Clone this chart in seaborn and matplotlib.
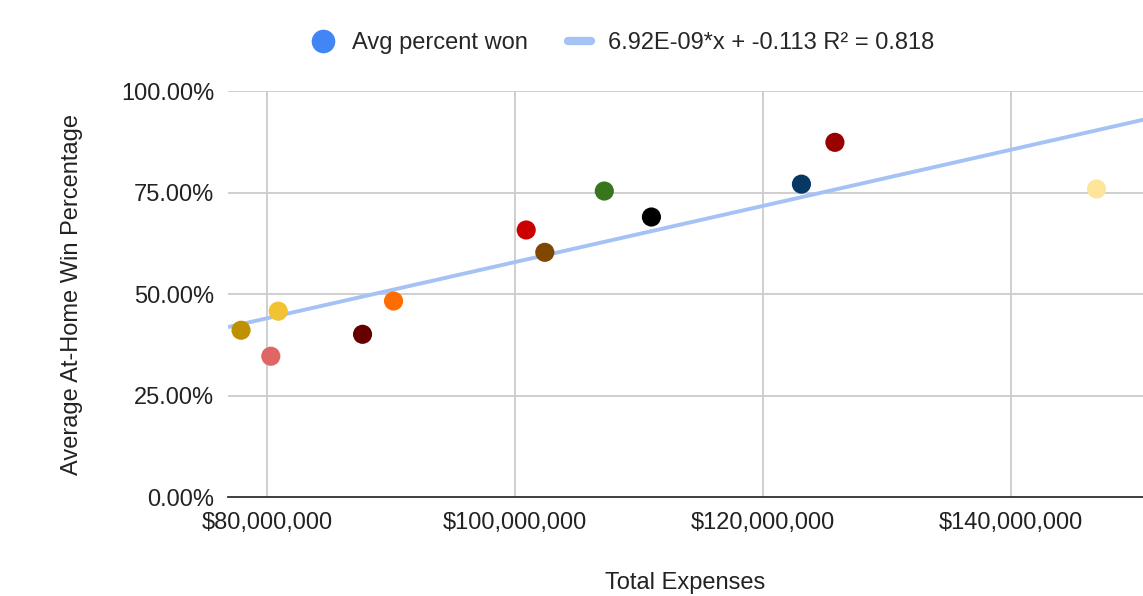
import numpy as np
import pandas as pd
import matplotlib
matplotlib.use("Agg")
import matplotlib.pyplot as plt
from matplotlib.ticker import FuncFormatter, PercentFormatter
from matplotlib.lines import Line2D
import seaborn as sns

# Team data: total expenses (USD) and average at-home win percentage
expenses = [77.9e6, 80.3e6, 80.9e6, 87.7e6, 90.2e6, 100.9e6, 102.4e6,
            107.2e6, 111.0e6, 123.1e6, 125.8e6, 146.9e6]
win_pct = [0.411, 0.347, 0.458, 0.401, 0.483, 0.658, 0.603,
           0.754, 0.690, 0.771, 0.874, 0.759]
point_colors = ["#BF9000", "#E06666", "#F1C232", "#660000", "#FF6D01", "#CC0000",
                "#7F4700", "#38761D", "#000000", "#073763", "#990000", "#FFE599"]

# Linear trendline coefficients
slope = 6.92e-09
intercept = -0.113
r_squared = 0.818

x_ticks = [80e6, 100e6, 120e6, 140e6]
y_ticks = [0, 0.25, 0.5, 0.75, 1.0]

sns.set_theme(style="white")
plt.rcParams["font.family"] = ["Liberation Sans", "DejaVu Sans"]

FS = 17
TXT = "#222222"

df = pd.DataFrame({"expenses": expenses, "win": win_pct,
                   "team": [str(i) for i in range(len(expenses))]})

fig = plt.figure(figsize=(11.43, 5.96), dpi=100)
ax = fig.add_axes([0.1995, 0.166, 0.8005, 0.681])

xmin, xmax = 76.85e6, 150.65e6
ax.set_xlim(xmin, xmax)
ax.set_ylim(0, 1.0)

ax.set_xticks(x_ticks)
ax.set_yticks(y_ticks)
ax.grid(True, color="#CCCCCC", linewidth=1.3)
ax.set_axisbelow(True)

# trendline
xs = np.array([xmin, xmax + 5e6])
ax.plot(xs, slope * xs + intercept, color="#A4C2F4", linewidth=2.8, zorder=2,
        solid_capstyle="butt")

sns.scatterplot(data=df, x="expenses", y="win", hue="team",
                palette=point_colors, s=190, edgecolor="none", legend=False,
                ax=ax, zorder=3, clip_on=False)

for side in ["top", "right", "left"]:
    ax.spines[side].set_visible(False)
ax.spines["bottom"].set_color("#333333")
ax.spines["bottom"].set_linewidth(1.3)
ax.tick_params(axis="both", length=0, labelsize=FS, colors=TXT)
ax.tick_params(axis="x", pad=11)
ax.tick_params(axis="y", pad=10)

ax.xaxis.set_major_formatter(FuncFormatter(lambda v, p: f"${v:,.0f}"))
ax.yaxis.set_major_formatter(PercentFormatter(xmax=1.0, decimals=2))

ax.set_xlabel("Total Expenses", fontsize=FS, color=TXT, labelpad=27)
ax.set_ylabel("Average At-Home Win Percentage", fontsize=FS, color=TXT,
              labelpad=27)

handles = [
    Line2D([], [], marker="o", linestyle="none", markersize=17,
           markerfacecolor="#4285F4", markeredgecolor="none"),
    Line2D([], [], color="#A4C2F4", linewidth=6),
]
labels = ["Avg percent won",
          f"{slope:.2E}*x + {intercept} R² = {r_squared}"]
fig.legend(handles, labels, loc="center", bbox_to_anchor=(0.545, 0.928),
           ncol=2, frameon=False, fontsize=FS, handlelength=1.0,
           columnspacing=1.7, handletextpad=0.7)

fig.savefig("out.png", dpi=100)
